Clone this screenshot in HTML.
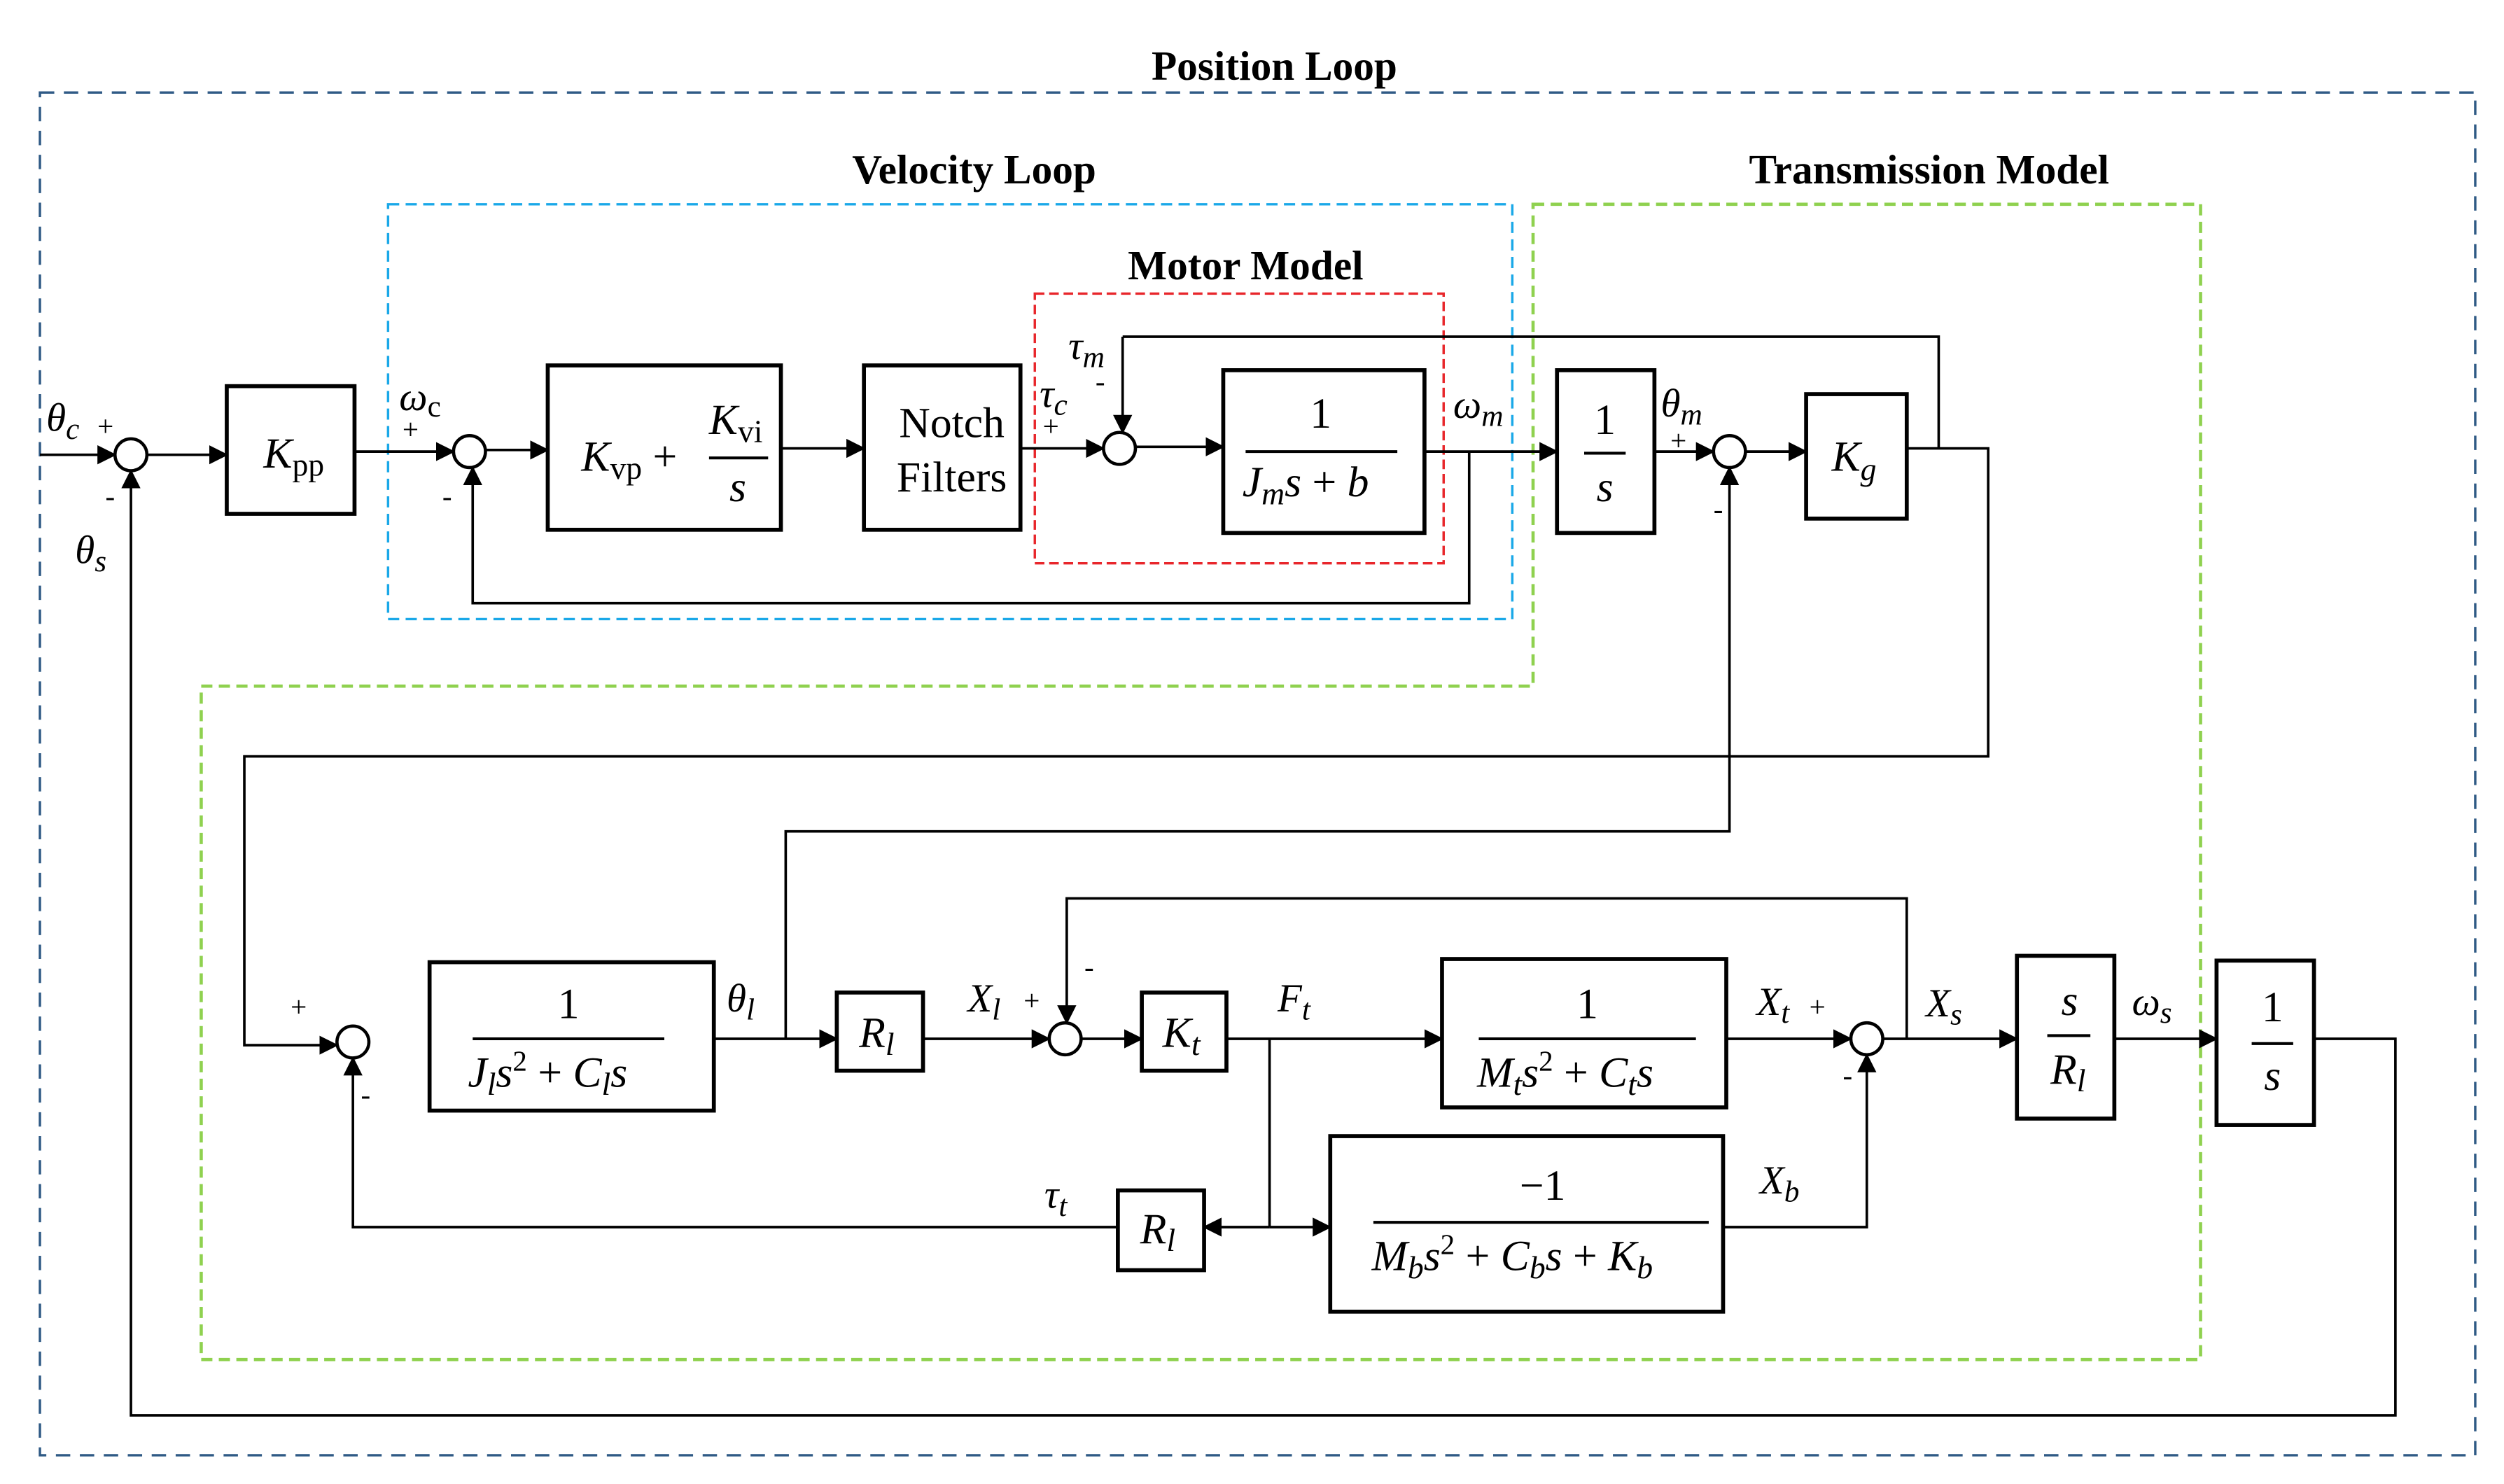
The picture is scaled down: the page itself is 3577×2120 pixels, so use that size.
<!DOCTYPE html>
<html><head><meta charset="utf-8"><style>
html,body{margin:0;padding:0;background:#fff;}
svg{display:block;}
text{font-family:"Liberation Serif",serif;fill:#000;}
.i{font-style:italic;}
.b{font-weight:bold;}
</style></head><body>
<svg width="3577" height="2120" viewBox="0 0 1568 930" preserveAspectRatio="none" xmlns="http://www.w3.org/2000/svg">
<defs>
<marker id="a" markerWidth="12" markerHeight="12" refX="11" refY="6" orient="auto" markerUnits="userSpaceOnUse">
<path d="M0,0 L12,6 L0,12 Z" fill="#000"/></marker>
</defs>
<rect x="25" y="58" width="1525" height="854" fill="none" stroke="#2f5a85" stroke-width="1.5" stroke-dasharray="9,6"/>
<rect x="243" y="128" width="704" height="260" fill="none" stroke="#1aa8e8" stroke-width="1.5" stroke-dasharray="7,4"/>
<path d="M960,128 H1378 V852 H126 V430 H960 Z" fill="none" stroke="#8fd14f" stroke-width="2" stroke-dasharray="7,4"/>
<rect x="648" y="184" width="256" height="169" fill="none" stroke="#e8262b" stroke-width="1.5" stroke-dasharray="6,3"/>
<text x="798" y="50" class="b" font-size="26" text-anchor="middle">Position Loop</text>
<text x="610" y="115" class="b" font-size="26" text-anchor="middle">Velocity Loop</text>
<text x="1208" y="115" class="b" font-size="26" text-anchor="middle">Transmission Model</text>
<text x="780" y="175" class="b" font-size="26" text-anchor="middle">Motor Model</text>

<g fill="#fff" stroke="#000" stroke-width="2.5">
<rect x="142" y="242" width="80" height="80"/>
<rect x="343" y="229" width="146" height="103"/>
<rect x="541" y="229" width="98" height="103"/>
<rect x="766" y="232" width="126" height="102"/>
<rect x="975" y="232" width="61" height="102"/>
<rect x="1131" y="247" width="63" height="78"/>
<rect x="269" y="603" width="178" height="93"/>
<rect x="524" y="622" width="54" height="49"/>
<rect x="715" y="622" width="53" height="49"/>
<rect x="903" y="601" width="178" height="93"/>
<rect x="700" y="746" width="54" height="50"/>
<rect x="833" y="712" width="246" height="110"/>
<rect x="1263" y="599" width="61" height="102"/>
<rect x="1388" y="602" width="61" height="103"/>
</g>
<g fill="#fff" stroke="#000" stroke-width="2">
<circle cx="82" cy="285" r="10"/>
<circle cx="294" cy="283" r="10"/>
<circle cx="701" cy="281" r="10"/>
<circle cx="1083" cy="283" r="10"/>
<circle cx="221" cy="653" r="10"/>
<circle cx="667" cy="651" r="10"/>
<circle cx="1169" cy="651" r="10"/>
</g>
<g fill="none" stroke="#000" stroke-width="1.6">
<path d="M25,285 H72" marker-end="url(#a)"/>
<path d="M92,285 H142" marker-end="url(#a)"/>
<path d="M222,283 H284" marker-end="url(#a)"/>
<path d="M304,282 H343" marker-end="url(#a)"/>
<path d="M489,281 H541" marker-end="url(#a)"/>
<path d="M639,281 H691" marker-end="url(#a)"/>
<path d="M711,280 H766" marker-end="url(#a)"/>
<path d="M703,211 H1214 V281"/>
<path d="M703,211 V271" marker-end="url(#a)"/>
<path d="M892,283 H975" marker-end="url(#a)"/>
<path d="M920,283 V378 H296 V293" marker-end="url(#a)"/>
<path d="M1036,283 H1073" marker-end="url(#a)"/>
<path d="M1093,283 H1131" marker-end="url(#a)"/>
<path d="M1194,281 H1245 V474 H153 V655 H211" marker-end="url(#a)"/>
<path d="M492,651 V521 H1083 V293" marker-end="url(#a)"/>
<path d="M447,651 H524" marker-end="url(#a)"/>
<path d="M578,651 H657" marker-end="url(#a)"/>
<path d="M1194,651 V563 H668 V641" marker-end="url(#a)"/>
<path d="M677,651 H715" marker-end="url(#a)"/>
<path d="M768,651 H903" marker-end="url(#a)"/>
<path d="M795,651 V769"/>
<path d="M795,769 H754" marker-end="url(#a)"/>
<path d="M795,769 H833" marker-end="url(#a)"/>
<path d="M700,769 H221 V663" marker-end="url(#a)"/>
<path d="M1081,651 H1159" marker-end="url(#a)"/>
<path d="M1079,769 H1169 V661" marker-end="url(#a)"/>
<path d="M1179,651 H1263" marker-end="url(#a)"/>
<path d="M1324,651 H1388" marker-end="url(#a)"/>
<path d="M1449,651 H1500 V887 H82 V295" marker-end="url(#a)"/>
</g>
<g stroke="#000" stroke-width="1.8">
<line x1="444" y1="287" x2="481" y2="287"/>
<line x1="780" y1="283" x2="875" y2="283"/>
<line x1="992" y1="284" x2="1018" y2="284"/>
<line x1="296" y1="651" x2="416" y2="651"/>
<line x1="926" y1="651" x2="1062" y2="651"/>
<line x1="860" y1="766" x2="1070" y2="766"/>
<line x1="1282" y1="649" x2="1309" y2="649"/>
<line x1="1410" y1="654" x2="1436" y2="654"/>
</g>
<g font-size="27">
<text x="165" y="293" class="i">K<tspan font-size="20" dy="5" font-style="normal">pp</tspan></text>
<text x="364" y="295" class="i">K<tspan font-size="20" dy="5" font-style="normal">vp</tspan><tspan dy="-5" font-style="normal"> + </tspan></text>
<text x="444" y="272" class="i">K<tspan font-size="20" dy="5" font-style="normal">vi</tspan></text>
<text x="462" y="314" class="i" text-anchor="middle">s</text>
<text x="596" y="274" text-anchor="middle">Notch</text>
<text x="596" y="308" text-anchor="middle">Filters</text>
<text x="827" y="268" text-anchor="middle">1</text>
<text x="778" y="311" class="i">J<tspan font-size="20" dy="5">m</tspan><tspan dy="-5">s</tspan><tspan font-style="normal"> + </tspan>b</text>
<text x="1005" y="272" text-anchor="middle">1</text>
<text x="1005" y="314" class="i" text-anchor="middle">s</text>
<text x="1147" y="295" class="i">K<tspan font-size="20" dy="6">g</tspan></text>
<text x="356" y="638" text-anchor="middle">1</text>
<text x="293" y="681" class="i">J<tspan font-size="20" dy="5">l</tspan><tspan dy="-5">s</tspan><tspan font-size="18" dy="-10" font-style="normal">2</tspan><tspan dy="10" font-style="normal"> + </tspan>C<tspan font-size="20" dy="5">l</tspan><tspan dy="-5">s</tspan></text>
<text x="538" y="656" class="i">R<tspan font-size="20" dy="5">l</tspan></text>
<text x="728" y="656" class="i">K<tspan font-size="20" dy="5">t</tspan></text>
<text x="994" y="638" text-anchor="middle">1</text>
<text x="925" y="681" class="i">M<tspan font-size="20" dy="5">t</tspan><tspan dy="-5">s</tspan><tspan font-size="18" dy="-10" font-style="normal">2</tspan><tspan dy="10" font-style="normal"> + </tspan>C<tspan font-size="20" dy="5">t</tspan><tspan dy="-5">s</tspan></text>
<text x="714" y="779" class="i">R<tspan font-size="20" dy="5">l</tspan></text>
<text x="966" y="752" text-anchor="middle">−1</text>
<text x="859" y="796" class="i">M<tspan font-size="20" dy="5">b</tspan><tspan dy="-5">s</tspan><tspan font-size="18" dy="-10" font-style="normal">2</tspan><tspan dy="10" font-style="normal"> + </tspan>C<tspan font-size="20" dy="5">b</tspan><tspan dy="-5">s</tspan><tspan font-style="normal"> + </tspan>K<tspan font-size="20" dy="5">b</tspan></text>
<text x="1296" y="636" class="i" text-anchor="middle">s</text>
<text x="1284" y="679" class="i">R<tspan font-size="20" dy="5">l</tspan></text>
<text x="1423" y="640" text-anchor="middle">1</text>
<text x="1423" y="683" class="i" text-anchor="middle">s</text>
</g>
<g font-size="25" class="i">
<text x="29" y="270">θ<tspan font-size="19" dy="5">c</tspan></text>
<text x="47" y="353">θ<tspan font-size="19" dy="5">s</tspan></text>
<text x="250" y="257">ω<tspan font-size="19" dy="4" font-style="normal">c</tspan></text>
<text x="651" y="255">τ<tspan font-size="19" dy="5">c</tspan></text>
<text x="669" y="225">τ<tspan font-size="19" dy="5">m</tspan></text>
<text x="910" y="262">ω<tspan font-size="19" dy="5">m</tspan></text>
<text x="1040" y="261">θ<tspan font-size="19" dy="5">m</tspan></text>
<text x="455" y="634">θ<tspan font-size="19" dy="5">l</tspan></text>
<text x="606" y="634">X<tspan font-size="19" dy="5">l</tspan></text>
<text x="800" y="634">F<tspan font-size="19" dy="5">t</tspan></text>
<text x="654" y="757">τ<tspan font-size="19" dy="5">t</tspan></text>
<text x="1100" y="636">X<tspan font-size="19" dy="5">t</tspan></text>
<text x="1102" y="748">X<tspan font-size="19" dy="5">b</tspan></text>
<text x="1206" y="637">X<tspan font-size="19" dy="5">s</tspan></text>
<text x="1335" y="636">ω<tspan font-size="19" dy="5">s</tspan></text>
</g>
<g font-size="18">
<text x="61" y="273">+</text><text x="66" y="317">-</text>
<text x="252" y="275">+</text><text x="277" y="317">-</text>
<text x="653" y="273">+</text><text x="686" y="245">-</text>
<text x="1046" y="282">+</text><text x="1073" y="325">-</text>
<text x="182" y="637">+</text><text x="226" y="692">-</text>
<text x="641" y="633">+</text><text x="679" y="612">-</text>
<text x="1133" y="637">+</text><text x="1154" y="680">-</text>
</g>
</svg>
</body></html>
